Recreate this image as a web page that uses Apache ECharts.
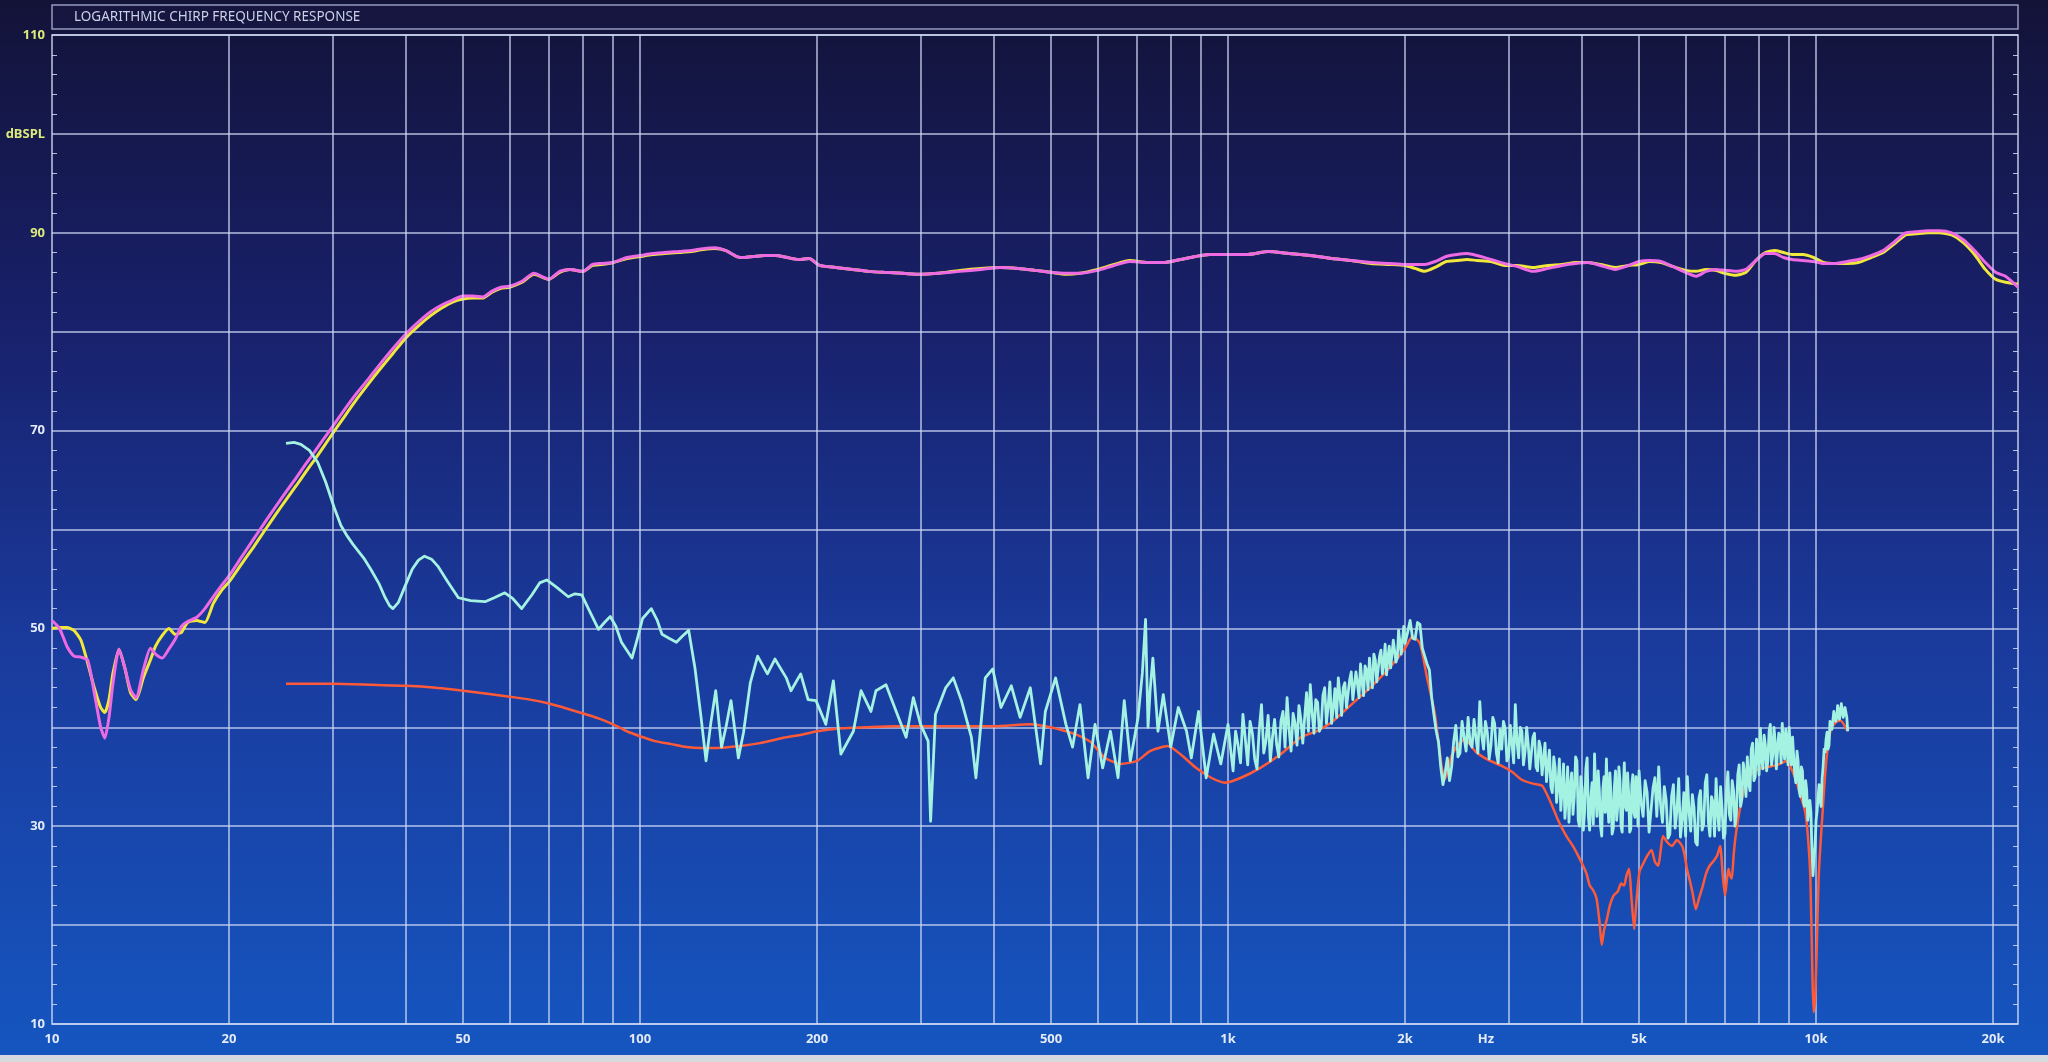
<!DOCTYPE html>
<html>
<head>
<meta charset="utf-8">
<script src="https://cdn.jsdelivr.net/npm/echarts@6/dist/echarts.min.js"></script>
<style>
html,body{margin:0;padding:0;background:#101030;overflow:hidden;}
#c{width:2048px;height:1062px;}
</style>
</head>
<body>
<div id="c"></div>
<script>
// ---------- DATA ----------
const TITLE = 'LOGARITHMIC CHIRP FREQUENCY RESPONSE';

// vertical grid lines (Hz)
const GRID_FREQS = [20,30,40,50,60,70,80,90,100,200,300,400,500,600,700,800,900,1000,
  2000,3000,4000,5000,6000,7000,8000,9000,10000,20000];
// x tick labels
const TICK_FREQS = [10,20,50,100,200,500,1000,2000,2745,5000,10000,20000];
const TICK_TEXT  = ['10','20','50','100','200','500','1k','2k','Hz','5k','10k','20k'];
// y tick labels
const Y_TICK_TEXT = {110:'110',100:'dBSPL',90:'90',70:'70',50:'50',30:'30',10:'10'};

// frequency response (yellow & magenta share the frequency list)
const TOP_F = [
  10,10.3,10.6,10.9,11.2,11.5,11.8,12.1,12.3,12.5,12.7,13.0,13.3,13.6,13.9,14.3,14.7,15.0,15.4,15.8,
  16.2,16.6,17.0,17.6,18.2,18.8,19.4,20,21,22,23,24,25,26,27,28,29,30,31.5,33,
  34.5,36,38,40,42,44,46,48,50,52,54,56,58,60,63,66,70,73,76,80,
  83,86,90,95,100,105,110,116,122,128,134,140,146,150,156,163,170,178,186,194,
  202,215,230,245,260,280,300,320,350,380,410,440,470,500,530,560,600,640,680,730,
  780,830,880,930,1000,1080,1170,1270,1380,1500,1620,1750,1880,2000,2080,2160,2250,2350,2450,2550,
  2650,2800,2950,3100,3300,3500,3700,3900,4100,4300,4550,4800,5000,5200,5450,5700,6000,6250,6500,6750,
  7000,7300,7600,7900,8200,8500,8800,9100,9500,9900,10300,10800,11300,11800,12400,13000,13600,14200,14800,15500,
  16200,17000,17800,18600,19400,20200,21000,22050];
const MAGENTA_DB = [
  50.8,50.0,48.2,47.2,47.1,46.8,43.5,40.0,38.9,41.0,44.5,47.9,46.0,43.8,43.0,45.8,48.0,47.4,47.0,47.9,
  48.9,50.2,50.7,51.1,52.0,53.2,54.3,55.3,57.2,59.0,60.7,62.3,63.8,65.2,66.6,67.9,69.2,70.4,72.2,73.8,
  75.2,76.6,78.3,79.8,81.0,82.0,82.7,83.2,83.6,83.6,83.5,84.1,84.5,84.6,85.1,85.9,85.3,86.1,86.3,86.1,
  86.8,86.9,87.0,87.5,87.7,87.9,88.0,88.1,88.2,88.4,88.5,88.2,87.6,87.5,87.6,87.7,87.7,87.5,87.3,87.4,
  86.7,86.5,86.3,86.1,86.0,85.9,85.8,85.9,86.1,86.3,86.5,86.4,86.2,86.0,85.9,85.9,86.2,86.7,87.1,87.0,
  87.0,87.3,87.6,87.8,87.8,87.8,88.1,87.9,87.7,87.4,87.2,87.0,86.9,86.8,86.8,86.8,87.1,87.6,87.8,87.9,
  87.7,87.3,86.9,86.6,86.1,86.4,86.7,86.9,87.0,86.7,86.3,86.7,87.1,87.2,87.1,86.6,86.0,85.6,86.1,86.3,
  86.2,86.1,86.3,87.2,87.9,87.9,87.5,87.3,87.2,87.1,86.9,86.9,87.1,87.3,87.7,88.2,89.1,90.0,90.1,90.2,
  90.2,90.0,89.3,88.2,87.0,86.0,85.6,84.5];
const YELLOW_DB = [
  50.0,50.1,50.1,49.8,48.8,46.5,44.0,42.0,41.5,42.8,45.5,47.9,46.0,43.5,42.8,45.0,46.8,48.2,49.3,50.0,
  49.4,49.6,50.6,50.8,50.6,52.5,53.8,54.7,56.5,58.2,59.9,61.5,63.0,64.4,65.8,67.1,68.4,69.7,71.5,73.2,
  74.7,76.1,77.8,79.4,80.6,81.6,82.4,83.0,83.3,83.4,83.4,84.0,84.4,84.5,85.0,85.8,85.3,86.0,86.3,86.1,
  86.7,86.8,87.0,87.4,87.6,87.8,87.9,88.0,88.1,88.3,88.4,88.2,87.6,87.5,87.6,87.7,87.7,87.5,87.3,87.4,
  86.7,86.5,86.3,86.1,86.0,85.9,85.8,85.9,86.2,86.4,86.5,86.4,86.2,86.0,85.8,85.9,86.3,86.8,87.2,87.0,
  87.0,87.3,87.6,87.8,87.8,87.8,88.1,87.9,87.7,87.4,87.2,86.9,86.8,86.7,86.4,86.1,86.5,87.1,87.2,87.3,
  87.2,87.1,86.7,86.7,86.5,86.7,86.8,87.0,87.0,86.8,86.5,86.7,86.8,87.1,87.0,86.6,86.2,86.1,86.3,86.2,
  85.9,85.7,86.0,87.2,88.0,88.2,88.0,87.8,87.8,87.5,87.0,86.9,86.9,87.0,87.5,88.0,88.9,89.8,89.9,90.0,
  90.0,89.8,89.0,87.8,86.3,85.3,85.0,84.8];

// cyan trace, low band: [Hz, dB]
const CYAN_LOW = [
  [25.0,68.7],[25.8,68.8],[26.5,68.6],[27.4,68.0],[28.3,66.8],[29.2,64.8],[30.2,62.2],[31.0,60.4],[31.8,59.3],[32.5,58.5],
  [33.1,57.9],[34.0,57.0],[34.9,55.9],[36.0,54.5],[36.8,53.2],[37.5,52.3],[38.0,52.0],[38.8,52.6],[39.8,54.2],[41.0,56.0],
  [42.0,56.9],[43.0,57.3],[44.2,57.0],[45.3,56.3],[47.0,54.8],[49.1,53.1],[51.5,52.8],[54.5,52.7],[56.5,53.1],[58.9,53.6],
  [60.8,53.0],[62.9,52.0],[65.5,53.4],[67.5,54.6],[69.4,54.9],[72,54.2],[75.5,53.2],[77.5,53.5],[79.6,53.4],[82,51.8],
  [85,49.9],[87,50.6],[89,51.2],[91,50.2],[93,48.6],[96.9,47.0],[99,49.0],[101,51.0],[104.5,52.0],[107,50.8],
  [109,49.4],[112,49.0],[115.3,48.6],[118,49.2],[121,49.8],[124,46.0],[127,41.0],[129.5,36.6],[132,40.5],[134.5,43.7],
  [137.6,38.0],[140,40.0],[142.8,42.7],[147,36.9],[150,39.5],[154,44.5],[158.5,47.2],[164.7,45.4],[169.6,46.9],[177.3,45.0],
  [180.6,43.7],[187.6,45.4],[193.1,42.8],[199.2,42.7],[207,40.3],[213.2,44.7],[219.6,37.3],[230.6,39.6],[237.6,43.7],[247,41.6],
  [251.9,43.7],[262,44.3],[272.7,41.6],[283.5,39.0],[291.6,43.0],[300,40.3],[309,38.6],[312,30.5],[318,41.3],[331,44.0],
  [341,45.0],[352,42.7],[366,39.0],[372.6,34.9],[386.5,45.0],[398,45.9],[411,42.0],[428,44.2],[443,41.0],[461,44.0],
  [480,36.3],[489,41.6],[509,45.0],[530,40.3],[544,38.0],[560,42.3],[578,34.9],[594,40.3],[612,35.9],[631,39.6],
  [650,34.9],[666,42.7],[682,36.6],[703,41.0],[715,45.5],[724,50.9],[731,40.0],[737,43.7],[745,47.0],[760,39.6],
  [776,43.3],[799,38.0],[823,42.0],[850,39.6],[866,36.9],[891,41.6],[918,34.9],[945,39.3],[972,36.3]];

// cyan trace, 1k-2k
const CYAN_MID = [
  [1000,40.3],[1010,37.8],[1020,35.6],[1030,39.6],[1040,38.2],[1050,36.4],[1060,41.3],[1070,38.8],[1080,36.2],[1090,40.6],
  [1100,39.4],[1110,36.8],[1120,35.8],[1130,39.8],[1140,42.3],[1150,37.4],[1160,38.6],[1170,41.2],[1180,36.6],[1190,39.0],
  [1200,40.8],[1210,38.2],[1220,37.0],[1230,40.6],[1240,41.6],[1250,38.0],[1260,43.0],[1270,39.8],[1280,37.6],[1290,41.4],
  [1300,40.4],[1310,38.2],[1320,42.2],[1330,40.8],[1340,38.4],[1350,41.0],[1360,43.5],[1370,39.6],[1380,44.3],[1390,41.4],
  [1400,39.4],[1410,42.8],[1420,42.5],[1430,39.6],[1440,40.0],[1450,43.2],[1460,44.0],[1470,40.4],[1480,42.2],[1490,44.6],
  [1500,40.4],[1510,42.0],[1520,43.9],[1530,41.0],[1540,45.0],[1550,43.2],[1560,41.2],[1570,44.0],[1580,44.5],[1590,42.0],
  [1600,42.0],[1610,44.8],[1620,45.6],[1630,42.8],[1640,42.6],[1650,45.6],[1660,44.4],[1670,43.0],[1680,46.4],[1690,44.6],
  [1700,43.2],[1710,46.2],[1720,45.8],[1730,43.8],[1740,47.0],[1750,45.2],[1760,44.0],[1770,47.4],[1780,46.8],[1790,44.6],
  [1800,44.8],[1810,47.2],[1820,47.8],[1830,45.4],[1840,46.4],[1850,48.4],[1860,45.3],[1870,47.0],[1880,48.2],[1890,46.0],
  [1900,46.0],[1910,48.8],[1920,48.8],[1930,46.6],[1940,47.0],[1950,49.8],[1960,49.6],[1970,47.4],[1980,47.6],[1990,50.2]];

// cyan trace, 2k-5k
const CYAN_HIGH1 = [
  [2000,48.5],[2020,49.6],[2040,50.8],[2060,49.0],[2080,48.9],[2100,50.6],[2120,50.4],[2140,48.0],[2160,47.2],[2180,46.4],
  [2200,45.8],[2220,43.0],[2240,41.2],[2260,39.6],[2280,38.5],[2300,36.0],[2320,34.2],[2340,35.4],[2360,36.9],[2380,34.6],
  [2400,36.0],[2420,38.6],[2440,40.2],[2460,37.0],[2480,37.4],[2500,40.6],[2520,39.0],[2540,37.6],[2560,41.0],[2580,38.4],
  [2600,38.0],[2620,40.8],[2640,38.9],[2660,37.4],[2680,42.6],[2700,39.2],[2720,37.8],[2740,40.6],[2760,39.5],[2780,36.8],
  [2800,38.2],[2820,41.0],[2840,40.4],[2860,37.4],[2880,36.4],[2900,39.8],[2920,37.8],[2940,40.6],[2960,39.9],[2980,36.6],
  [3000,37.0],[3020,40.2],[3040,38.4],[3060,36.4],[3080,42.3],[3100,38.6],[3120,36.9],[3140,40.0],[3160,39.6],[3180,36.2],
  [3200,37.6],[3220,40.0],[3240,38.2],[3260,35.8],[3280,36.0],[3300,39.0],[3320,39.4],[3340,36.0],[3360,35.6],[3380,38.6],
  [3400,37.9],[3420,35.2],[3440,36.8],[3460,38.4],[3480,34.5],[3500,36.2],[3520,37.7],[3540,34.0],[3560,33.4],[3580,37.0],
  [3600,35.9],[3620,32.4],[3640,34.2],[3660,36.8],[3680,31.6],[3700,33.8],[3720,36.3],[3740,30.8],[3760,32.8],[3780,36.0],
  [3800,30.4],[3820,34.0],[3840,35.4],[3860,31.2],[3880,33.0],[3900,37.0],[3920,36.6],[3940,30.6],[3960,30.0],[3980,35.0],
  [4000,33.8],[4020,29.6],[4040,31.5],[4060,35.8],[4080,36.9],[4100,31.0],[4120,29.6],[4140,33.0],[4160,34.4],[4180,30.2],
  [4200,37.3],[4220,33.4],[4240,31.0],[4260,35.6],[4280,33.6],[4300,30.0],[4320,29.0],[4340,33.8],[4360,35.0],[4380,31.4],
  [4400,36.8],[4420,32.6],[4440,30.4],[4460,35.4],[4480,33.2],[4500,29.2],[4520,29.8],[4540,34.0],[4560,35.6],[4580,30.6],
  [4600,32.0],[4620,36.0],[4640,34.6],[4660,30.0],[4680,29.4],[4700,33.6],[4720,36.4],[4740,32.0],[4760,31.6],[4780,35.4],
  [4800,33.4],[4820,29.4],[4840,29.7],[4860,34.2],[4880,35.2],[4900,31.4],[4920,30.9],[4940,35.0],[4960,34.0],[4980,30.0]];

// cyan trace, 5k-11.3k
const CYAN_HIGH2 = [
  [5000,35.6],[5040,32.4],[5080,31.0],[5120,34.6],[5160,33.4],[5200,29.4],[5240,29.6],[5280,33.8],[5320,34.9],[5360,31.0],
  [5400,36.0],[5440,32.2],[5480,30.4],[5520,34.0],[5560,32.6],[5600,28.8],[5640,29.2],[5680,33.0],[5720,34.2],[5760,29.8],
  [5800,31.6],[5840,34.8],[5880,28.9],[5920,30.8],[5960,33.4],[6000,29.0],[6040,35.0],[6080,31.6],[6120,29.5],[6160,33.2],
  [6200,31.9],[6240,28.4],[6280,28.1],[6320,32.8],[6360,33.6],[6400,29.6],[6440,30.2],[6480,34.4],[6520,35.2],[6560,30.4],
  [6600,29.0],[6640,33.0],[6680,32.4],[6720,29.0],[6760,34.8],[6800,31.4],[6840,29.6],[6880,34.0],[6920,31.8],[6960,28.8],
  [7000,29.2],[7040,33.6],[7080,35.5],[7120,31.2],[7160,30.6],[7200,34.6],[7240,33.6],[7280,30.0],[7320,31.2],[7360,35.2],
  [7400,36.2],[7440,32.0],[7480,32.8],[7520,36.4],[7560,35.2],[7600,33.0],[7640,37.0],[7680,34.4],[7720,33.6],[7760,37.8],
  [7800,38.4],[7840,34.6],[7880,35.0],[7920,38.8],[7960,37.6],[8000,35.2],[8040,39.9],[8080,37.0],[8120,35.8],[8160,39.2],
  [8200,38.2],[8240,35.6],[8280,36.6],[8320,39.6],[8360,40.3],[8400,36.2],[8440,37.2],[8480,40.0],[8520,38.6],[8560,35.8],
  [8600,35.9],[8640,39.4],[8680,39.0],[8720,36.4],[8760,40.4],[8800,38.0],[8840,36.8],[8880,39.8],[8920,38.5],[8960,36.2],
  [9000,40.0],[9040,38.0],[9080,36.2],[9120,39.0],[9160,38.8],[9200,35.2],[9240,34.4],[9280,37.6],[9320,36.6],[9360,33.6],
  [9400,33.0],[9440,36.0],[9480,35.6],[9520,32.4],[9560,32.0],[9600,34.6],[9640,33.6],[9680,30.6],[9720,30.4],[9760,32.6],
  [9800,31.4],[9840,27.6],[9880,25.0],[9920,26.8],[9960,28.0],[10000,30.6],[10040,31.5],[10080,33.0],[10120,34.2],[10160,32.6],
  [10200,32.0],[10240,34.8],[10280,36.0],[10320,37.8],[10360,37.5],[10400,38.8],[10440,39.5],[10480,37.8],[10520,38.2],[10560,40.6],
  [10600,40.8],[10640,39.8],[10680,40.0],[10720,41.6],[10760,41.8],[10800,40.6],[10840,40.9],[10880,42.2],[10920,42.0],[10960,40.8],
  [11000,41.0],[11040,42.4],[11080,42.2],[11120,41.0],[11160,41.3],[11200,42.0],[11240,41.9],[11280,41.0],[11320,39.6]];

// red trace: [Hz, dB]
const RED_PTS = [
  [25,44.4],[30,44.4],[35,44.3],[40,44.2],[45,44.0],[50,43.7],[55,43.4],[60,43.1],[65,42.8],[70,42.4],
  [75,41.9],[80,41.4],[85,40.9],[90,40.3],[95,39.6],[100,39.1],[106,38.6],[113,38.3],[120,38.0],[127,37.9],
  [135,37.9],[148,38.1],[160,38.4],[174,38.9],[190,39.3],[200,39.6],[220,39.9],[242,40.0],[270,40.1],[301,40.1],
  [350,40.1],[401,40.1],[461,40.3],[499,40.0],[530,39.6],[550,39.3],[584,38.5],[618,36.9],[657,36.3],[700,36.6],
  [737,37.6],[790,38.1],[829,37.3],[882,35.9],[936,34.9],[988,34.4],[1052,34.9],[1135,35.9],[1230,37.3],[1330,39.0],
  [1413,39.6],[1500,40.5],[1600,42.0],[1700,43.4],[1800,44.8],[1900,46.3],[2000,48.0],[2060,49.2],[2120,48.5],[2180,45.0],
  [2247,41.4],[2307,36.1],[2337,34.7],[2399,37.1],[2460,38.2],[2527,38.8],[2640,37.5],[2770,36.7],[2920,36.1],[3040,35.5],
  [3158,34.7],[3300,34.3],[3420,34.1],[3500,33.0],[3562,32.0],[3630,30.8],[3705,29.7],[3780,28.8],[3858,28.0],[3940,27.0],
  [4016,26.0],[4070,25.2],[4122,24.0],[4180,23.5],[4233,22.7],[4280,20.5],[4320,18.0],[4360,19.5],[4408,20.6],[4460,22.0],
  [4527,23.0],[4600,23.4],[4660,24.2],[4714,24.0],[4760,25.0],[4809,25.7],[4850,23.0],[4906,19.6],[4950,22.5],[5008,25.4],
  [5080,26.2],[5162,27.0],[5250,27.6],[5320,26.4],[5390,26.0],[5440,27.5],[5490,29.0],[5580,28.4],[5688,28.0],[5800,28.6],
  [5918,28.0],[5980,27.0],[6030,25.7],[6100,24.5],[6164,23.3],[6246,21.6],[6330,22.8],[6420,24.0],[6500,25.2],[6591,26.0],
  [6700,26.5],[6787,27.0],[6870,28.0],[6940,25.0],[7002,23.0],[7050,24.5],[7095,25.7],[7140,25.0],[7189,24.7],[7240,27.0],
  [7287,28.7],[7360,30.5],[7434,32.0],[7530,33.5],[7636,34.7],[7800,35.4],[8000,35.8],[8300,36.0],[8600,36.2],[8900,36.6],
  [9200,35.0],[9400,33.2],[9588,31.4],[9700,28.5],[9780,24.7],[9850,16.0],[9900,11.2],[9940,11.8],[9970,12.9],[10030,18.0],
  [10100,24.7],[10170,28.0],[10240,30.7],[10340,34.5],[10440,37.4],[10600,39.8],[10800,40.5],[11000,40.7],[11320,39.6]];

// ---------- CHART ----------
const FONT = '"Noto Sans", "Open Sans", sans-serif';
const GRID_COLOR = 'rgba(208,218,244,0.85)';
const chart = echarts.init(document.getElementById('c'), null, {renderer: 'canvas'});

const gridItems = GRID_FREQS.map(f => ({xAxis: f}));
const tickItems = TICK_FREQS.map((f, i) => ({
  xAxis: f,
  lineStyle: {color: 'rgba(0,0,0,0)', width: 0},
  label: {show: true, formatter: TICK_TEXT[i]}
}));
const cyanData = CYAN_LOW.concat(CYAN_MID, CYAN_HIGH1, CYAN_HIGH2);

const yAxisCommon = {
  type: 'value', min: 10, max: 110, interval: 10,
  axisLine: {show: false},
  axisTick: {show: false, inside: true},
  minorTick: {show: true, splitNumber: 5, length: 5, lineStyle: {color: GRID_COLOR, width: 1}},
  minorSplitLine: {show: false}
};

chart.setOption({
  animation: false,
  backgroundColor: {
    type: 'linear', x: 0, y: 0, x2: 0, y2: 1,
    colorStops: [
      {offset: 0, color: '#131338'},
      {offset: 0.3, color: '#18206a'},
      {offset: 0.6, color: '#1a3a9c'},
      {offset: 1, color: '#1556c0'}
    ]
  },
  grid: {
    left: 52, right: 30, top: 35, bottom: 38,
    show: true, borderColor: 'rgba(210,220,245,0.9)', borderWidth: 1.5,
    backgroundColor: 'transparent'
  },
  xAxis: {
    type: 'log', logBase: 10, min: 10, max: 22050,
    axisLine: {show: false}, axisTick: {show: false},
    axisLabel: {show: false}, splitLine: {show: false}
  },
  yAxis: [
    Object.assign({}, yAxisCommon, {
      position: 'left',
      splitLine: {show: true, lineStyle: {color: GRID_COLOR, width: 1.5}},
      axisLabel: {
        margin: 7,
        formatter: v => {
          const t = Y_TICK_TEXT[v];
          if (!t) return '';
          return (v >= 90 ? '{y|' : '{w|') + t + '}';
        },
        rich: {
          y: {color: '#dcea7c', fontSize: 13, fontWeight: 'bold', fontFamily: FONT},
          w: {color: '#e4eaf6', fontSize: 13, fontWeight: 'bold', fontFamily: FONT}
        }
      }
    }),
    Object.assign({}, yAxisCommon, {
      position: 'right',
      splitLine: {show: false},
      axisLabel: {show: false}
    })
  ],
  series: [
    {
      name: 'grid', type: 'line', data: [], z: 1, silent: true,
      markLine: {
        silent: true, symbol: ['none', 'none'], animation: false,
        lineStyle: {color: GRID_COLOR, width: 1.5, type: 'solid'},
        label: {show: false, position: 'start', distance: 9, color: '#e4eaf6',
          fontSize: 13, fontWeight: 'bold', fontFamily: FONT},
        emphasis: {disabled: true},
        data: gridItems.concat(tickItems)
      }
    },
    {
      name: 'yellow', type: 'line', z: 3, showSymbol: false, smooth: 0.2,
      data: TOP_F.map((f, i) => [f, YELLOW_DB[i]]),
      lineStyle: {color: '#f0e83a', width: 3}
    },
    {
      name: 'magenta', type: 'line', z: 4, showSymbol: false, smooth: 0.2,
      data: TOP_F.map((f, i) => [f, MAGENTA_DB[i]]),
      lineStyle: {color: '#ee6ae4', width: 3}
    },
    {
      name: 'red', type: 'line', z: 5, showSymbol: false, smooth: 0.2,
      data: RED_PTS,
      lineStyle: {color: '#ff5a38', width: 2.5}
    },
    {
      name: 'cyan', type: 'line', z: 6, showSymbol: false, smooth: false,
      data: cyanData,
      lineStyle: {color: '#a4f2e2', width: 2.8, join: 'round'}
    }
  ],
  graphic: [
    {
      type: 'rect', z: 10, silent: true,
      shape: {x: 52, y: 5, width: 1966, height: 24},
      style: {fill: 'rgba(24,24,70,0.55)', stroke: 'rgba(190,200,232,0.75)', lineWidth: 1.5}
    },
    {
      type: 'text', z: 11, silent: true, x: 74, y: 17,
      style: {text: TITLE, fill: '#c9d1e6', font: '13.5px ' + FONT, verticalAlign: 'middle'}
    },
    {
      type: 'rect', z: 10, silent: true,
      shape: {x: 0, y: 1055, width: 2048, height: 7},
      style: {fill: '#d6dade'}
    }
  ]
});
</script>
</body>
</html>
